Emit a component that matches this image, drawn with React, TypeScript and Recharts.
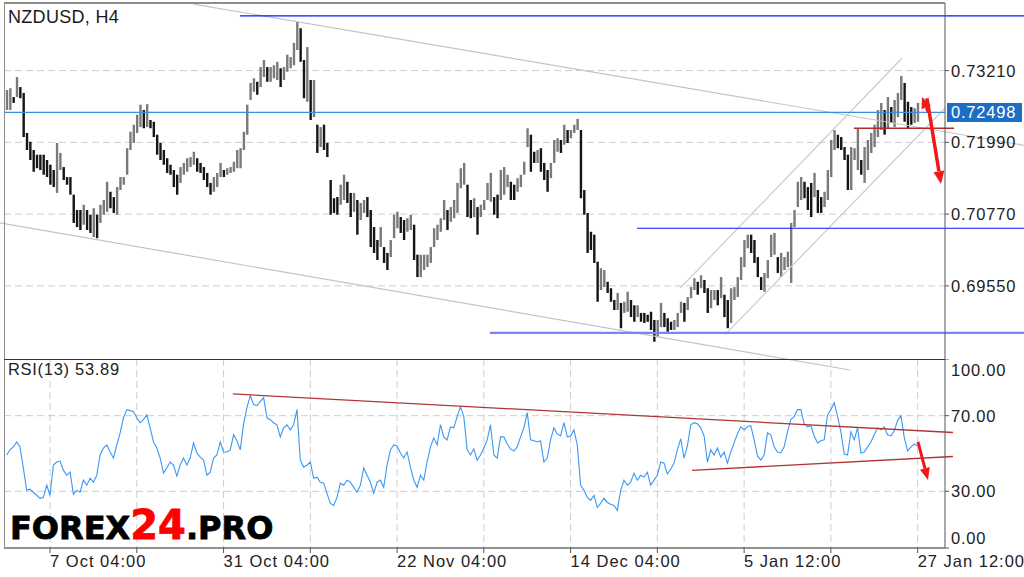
import React from 'react';
import { ComposedChart, Bar, Line, XAxis, YAxis, CartesianGrid, ReferenceLine } from 'recharts';

const FONT = "'Liberation Sans', Arial, Helvetica, sans-serif";

// H4 candles (high / low), one entry per time slot
const priceHigh = [
  0.7288,0.7291,0.7276,0.7310,0.7293,0.7283,0.7215,0.7200,0.7186,0.7178,
  0.7178,0.7178,0.7169,0.7161,0.7152,0.7198,0.7181,0.7157,0.7140,0.7140,
  0.7110,0.7084,0.7084,0.7093,0.7084,0.7076,0.7087,0.7076,0.7093,0.7101,
  0.7132,0.7115,0.7106,0.7123,0.7140,0.7140,0.7189,0.7217,0.7229,0.7246,
  0.7263,0.7254,0.7264,0.7237,0.7234,0.7212,0.7198,0.7186,0.7172,0.7161,
  0.7152,0.7144,0.7157,0.7164,0.7172,0.7174,0.7183,0.7172,0.7164,0.7157,
  0.7147,0.7130,0.7140,0.7147,0.7164,0.7152,0.7155,0.7157,0.7166,0.7186,
  0.7189,0.7217,0.7263,0.7300,0.7308,0.7302,0.7327,0.7339,0.7327,0.7327,
  0.7330,0.7336,0.7325,0.7327,0.7348,0.7344,0.7368,0.7404,0.7393,0.7339,
  0.7361,0.7305,0.7305,0.7229,0.7225,0.7229,0.7198,0.7135,0.7104,0.7106,
  0.7127,0.7144,0.7132,0.7113,0.7113,0.7101,0.7096,0.7101,0.7106,0.7084,
  0.7055,0.7033,0.7055,0.7021,0.7011,0.7033,0.7076,0.7081,0.7072,0.7067,
  0.7070,0.7076,0.7059,0.7008,0.7008,0.7008,0.7008,0.7021,0.7053,0.7059,
  0.7070,0.7101,0.7084,0.7089,0.7101,0.7130,0.7155,0.7164,0.7127,0.7101,
  0.7104,0.7089,0.7093,0.7101,0.7130,0.7147,0.7106,0.7110,0.7152,0.7157,
  0.7144,0.7132,0.7127,0.7138,0.7144,0.7166,0.7223,0.7212,0.7183,0.7186,
  0.7189,0.7164,0.7152,0.7164,0.7203,0.7206,0.7203,0.7229,0.7220,0.7220,
  0.7229,0.7239,0.7220,0.7118,0.7079,0.7047,0.7042,0.6996,0.6985,0.6982,
  0.6962,0.6951,0.6931,0.6943,0.6926,0.6928,0.6945,0.6931,0.6922,0.6922,
  0.6909,0.6909,0.6906,0.6911,0.6897,0.6897,0.6926,0.6909,0.6900,0.6894,
  0.6897,0.6909,0.6928,0.6926,0.6936,0.6953,0.6968,0.6962,0.6973,0.6965,
  0.6951,0.6948,0.6948,0.6948,0.6970,0.6940,0.6931,0.6951,0.6953,0.6970,
  0.7004,0.7033,0.7042,0.7042,0.7033,0.7004,0.6970,0.6977,0.6999,0.7042,
  0.7045,0.7004,0.7011,0.7004,0.7013,0.7062,0.7084,0.7132,0.7140,0.7132,
  0.7123,0.7130,0.7147,0.7118,0.7106,0.7115,0.7152,0.7203,0.7220,0.7212,
  0.7208,0.7191,0.7178,0.7191,0.7189,0.7223,0.7169,0.7191,0.7203,0.7215,
  0.7229,0.7254,0.7266,0.7254,0.7276,0.7259,0.7271,0.7283,0.7312,0.7300,
  0.7268,0.7259,0.7257,0.7266,
];

const priceLow = [
  0.7254,0.7254,0.7266,0.7276,0.7274,0.7208,0.7186,0.7169,0.7149,0.7155,
  0.7152,0.7144,0.7140,0.7127,0.7123,0.7113,0.7152,0.7135,0.7127,0.7110,
  0.7062,0.7055,0.7050,0.7059,0.7050,0.7045,0.7038,0.7036,0.7062,0.7076,
  0.7081,0.7087,0.7079,0.7076,0.7118,0.7127,0.7144,0.7186,0.7198,0.7215,
  0.7225,0.7223,0.7225,0.7223,0.7208,0.7178,0.7169,0.7161,0.7147,0.7144,
  0.7123,0.7110,0.7130,0.7144,0.7149,0.7157,0.7161,0.7149,0.7147,0.7135,
  0.7123,0.7110,0.7115,0.7123,0.7140,0.7140,0.7144,0.7147,0.7149,0.7155,
  0.7155,0.7186,0.7212,0.7271,0.7285,0.7280,0.7293,0.7310,0.7302,0.7302,
  0.7308,0.7305,0.7293,0.7305,0.7319,0.7325,0.7330,0.7356,0.7336,0.7274,
  0.7268,0.7237,0.7242,0.7181,0.7191,0.7186,0.7174,0.7076,0.7079,0.7076,
  0.7093,0.7101,0.7096,0.7072,0.7081,0.7042,0.7067,0.7079,0.7072,0.7021,
  0.7011,0.6999,0.7021,0.6994,0.6982,0.7004,0.7036,0.7053,0.7045,0.7033,
  0.7047,0.7050,0.6999,0.6970,0.6970,0.6982,0.6987,0.6994,0.7021,0.7033,
  0.7047,0.7067,0.7050,0.7064,0.7070,0.7079,0.7121,0.7127,0.7072,0.7070,
  0.7072,0.7042,0.7072,0.7084,0.7101,0.7098,0.7076,0.7070,0.7101,0.7110,
  0.7123,0.7101,0.7101,0.7115,0.7123,0.7144,0.7191,0.7149,0.7164,0.7164,
  0.7149,0.7135,0.7115,0.7138,0.7164,0.7183,0.7181,0.7195,0.7198,0.7206,
  0.7215,0.7220,0.7104,0.7076,0.7011,0.7016,0.6994,0.6928,0.6948,0.6953,
  0.6943,0.6928,0.6914,0.6914,0.6883,0.6909,0.6911,0.6902,0.6894,0.6902,
  0.6894,0.6892,0.6894,0.6880,0.6860,0.6868,0.6885,0.6885,0.6877,0.6880,
  0.6880,0.6885,0.6909,0.6894,0.6914,0.6934,0.6948,0.6940,0.6951,0.6943,
  0.6909,0.6917,0.6931,0.6922,0.6934,0.6902,0.6883,0.6892,0.6931,0.6936,
  0.6965,0.6987,0.7019,0.7011,0.6994,0.6970,0.6948,0.6945,0.6968,0.7004,
  0.7008,0.6977,0.6970,0.6982,0.6987,0.6960,0.7055,0.7089,0.7101,0.7104,
  0.7084,0.7072,0.7106,0.7079,0.7079,0.7089,0.7101,0.7140,0.7186,0.7189,
  0.7186,0.7169,0.7118,0.7118,0.7169,0.7152,0.7144,0.7130,0.7152,0.7181,
  0.7191,0.7208,0.7220,0.7212,0.7223,0.7232,0.7225,0.7242,0.7271,0.7234,
  0.7223,0.7229,0.7232,0.7234,
];

// RSI(13) per slot
const rsi13 = [
  49.2,51.9,53.5,56.1,53.5,42.3,30.5,31.1,29.5,27.9,
  26.3,26.8,33.2,27.9,43.9,45.5,46.0,41.2,38.5,40.1,
  28.4,30.5,29.5,35.9,33.2,36.9,34.8,38.5,49.2,52.9,
  54.5,50.8,47.6,54.5,60.9,68.9,73.2,72.7,72.1,68.9,
  66.3,67.9,70.5,63.6,56.1,52.9,47.6,39.6,42.3,45.5,
  43.9,38.0,43.9,47.6,43.9,47.6,55.6,50.3,48.1,46.5,
  38.5,40.1,47.6,49.2,56.1,50.8,50.8,51.9,59.9,56.7,
  51.9,65.7,74.3,80.7,75.9,75.3,77.5,79.6,68.9,67.9,
  66.3,65.2,58.8,63.6,65.2,62.5,65.2,73.2,46.5,42.8,
  43.9,45.5,36.9,37.5,34.8,34.3,28.9,23.6,22.5,26.8,
  34.3,33.2,35.9,34.8,32.1,29.5,33.2,42.3,38.5,34.8,
  28.9,34.8,35.9,32.1,43.9,51.9,54.5,54.0,50.3,47.6,
  50.8,42.8,35.9,32.1,38.5,35.9,45.5,53.5,58.3,54.5,
  65.2,58.8,57.2,64.1,63.6,69.5,74.8,69.5,51.9,49.2,
  52.4,46.5,49.2,52.9,57.2,65.2,49.2,47.6,58.8,58.8,
  55.0,52.4,51.3,53.5,58.8,63.6,71.6,57.2,56.7,56.1,
  56.7,45.5,47.6,57.2,63.6,60.4,59.3,66.3,58.8,59.3,
  62.5,54.5,33.2,30.5,26.8,25.2,27.9,21.5,23.6,26.3,
  24.1,23.1,22.5,19.9,30.5,35.9,33.2,34.8,39.6,35.9,
  38.5,37.5,40.1,33.2,35.9,38.5,45.5,44.9,39.1,41.7,
  44.9,51.9,57.8,47.6,54.0,65.2,66.3,65.7,63.6,59.3,
  45.5,51.9,49.2,52.9,48.1,50.8,44.9,50.8,55.6,60.4,
  64.1,62.5,64.1,64.7,57.2,48.7,46.5,49.2,60.9,59.9,
  53.5,50.8,50.3,53.5,61.5,67.9,69.5,73.2,73.2,65.7,
  64.1,64.7,59.3,55.6,56.7,57.2,70.5,73.2,76.9,69.5,
  61.5,49.7,49.2,61.5,57.2,63.6,50.3,50.8,53.5,56.1,
  59.9,63.6,62.5,64.1,59.9,59.3,62.0,67.4,70.0,58.3,
  51.3,53.5,55.0,53.89,
];

const gridSlots = [13, 39, 65, 91, 117, 143, 169, 195, 221, 247, 273];
const labelSlots = [13, 65, 117, 169, 221, 273];
const labelTexts = ['7 Oct 04:00', '31 Oct 04:00', '22 Nov 04:00', '14 Dec 04:00', '5 Jan 12:00', '27 Jan 12:00'];
const priceTicks = [0.6955, 0.7077, 0.7199, 0.7321];
const rsiTicks = [0, 30, 70, 100];
const lastPrice = 0.72498;
const lastRsi = 53.89;
const slotDomain: [number, number] = [-0.8, 281.2];
const priceDomain: [number, number] = [0.68307, 0.74359];

// drawn objects (data coordinates: slot, price / rsi)
const blueLevelTop = { from: 69.9, to: 304.9, price: 0.7414 };
const blueLevelMid = { from: 188.9, to: 304.9, price: 0.7053 };
const blueLevelLow = { from: 144.8, to: 304.9, price: 0.6875 };
const redLevel = { from: 253.9, to: 283.9, price: 0.7223 };
const channelFallUpper = [{ x: 56, y: 0.7434 }, { x: 304.9, y: 0.7194 }];
const channelFallLower = [{ x: -2, y: 0.7062 }, { x: 252.7, y: 0.6812 }];
const channelRiseUpper = [{ x: 201.8, y: 0.6951 }, { x: 268.3, y: 0.7342 }];
const channelRiseLower = [{ x: 215.3, y: 0.6872 }, { x: 281.2, y: 0.7257 }];
const priceArrowDown = [{ x: 275.8, y: 0.7274 }, { x: 280.0, y: 0.7128 }];
const priceArrowUp = [{ x: 276.1, y: 0.7251 }, { x: 274.3, y: 0.7276 }];
const rsiLineUpper = [{ x: 67.8, y: 81.5 }, { x: 283.6, y: 61.1 }];
const rsiLineLower = [{ x: 205.4, y: 41.1 }, { x: 283.6, y: 48.4 }];
const rsiArrow = [{ x: 273.1, y: 56.1 }, { x: 276.1, y: 36.0 }];

const priceData = priceHigh.map((h, i) => ({
  slot: i,
  range: [priceLow[i], h],
  up: i === 0 ? true : h + priceLow[i] >= priceHigh[i - 1] + priceLow[i - 1],
}));
const rsiData = rsi13.map((v, i) => ({ slot: i, rsi: v }));

const Candle = (props: any) => {
  const { x, y, width, height, payload } = props;
  if (x == null || y == null || height == null) return null;
  const top = Math.min(y, y + height);
  const h = Math.max(Math.abs(height), 1);
  const cx = x + width / 2;
  return <rect x={cx - 1.2} y={top} width={2.4} height={h} fill={payload.up ? '#7a7a7a' : '#151515'} />;
};

const makeArrow = (headLen: number, headW: number, shaft: number, color: string) => (p: any) => {
  const { x1, y1, x2, y2 } = p;
  if ([x1, y1, x2, y2].some((v) => v == null || isNaN(v))) return <g />;
  const dx = x2 - x1;
  const dy = y2 - y1;
  const len = Math.hypot(dx, dy) || 1;
  const ux = dx / len;
  const uy = dy / len;
  const bx = x2 - ux * headLen;
  const by = y2 - uy * headLen;
  const px = (-uy * headW) / 2;
  const py = (ux * headW) / 2;
  return (
    <g>
      <line x1={x1} y1={y1} x2={bx} y2={by} stroke={color} strokeWidth={shaft} />
      <polygon points={`${x2},${y2} ${bx + px},${by + py} ${bx - px},${by - py}`} fill={color} />
    </g>
  );
};

const PriceTick = (props: any) => {
  const { x, y, payload } = props;
  return (
    <text x={x} y={y} dy={6} fill="#222" fontSize={16.5} letterSpacing={0.8} fontFamily={FONT} textAnchor="start">
      {Number(payload.value).toFixed(5)}
    </text>
  );
};

const RsiTick = (props: any) => {
  const { x, y, payload } = props;
  const v = Number(payload.value);
  const shift = v === 100 ? 11 : v === 0 ? -10 : 0;
  return (
    <text x={x} y={y + shift} dy={6} fill="#222" fontSize={16.5} letterSpacing={0.8} fontFamily={FONT} textAnchor="start">
      {v.toFixed(2)}
    </text>
  );
};

const DateTick = (props: any) => {
  const { x, y, payload } = props;
  const idx = labelSlots.indexOf(Number(payload.value));
  if (idx < 0) return <g />;
  return (
    <text x={x} y={y} dy={12} fill="#222" fontSize={16.5} letterSpacing={1} fontFamily={FONT} textAnchor="start">
      {labelTexts[idx]}
    </text>
  );
};

const PriceTag = (props: any) => {
  const vb = props.viewBox || {};
  const x = (vb.x ?? 0) + (vb.width ?? 0) + 2;
  const y = vb.y ?? 0;
  return (
    <g>
      <rect x={x} y={y - 9.5} width={75} height={19} fill="#1c6ec4" />
      <text x={x + 4} y={y + 6} fill="#ffffff" fontSize={16.5} letterSpacing={0.8} fontFamily={FONT}>
        {lastPrice.toFixed(5)}
      </text>
    </g>
  );
};

const seg = (a: { x: number; y: number }[]) => a.map((p) => ({ x: p.x, y: p.y })) as any;
const lvl = (l: { from: number; to: number; price: number }) =>
  [{ x: l.from, y: l.price }, { x: l.to, y: l.price }] as any;

export default function App() {
  return (
    <div style={{ position: 'fixed', left: 0, top: 0, width: 1024, height: 577, background: '#fff', overflow: 'hidden' }}>
      {/* price panel */}
      <div style={{ position: 'absolute', left: 0, top: 0 }}>
        <ComposedChart width={1024} height={380} data={priceData} margin={{ top: 3, right: 0, bottom: 21, left: 4 }}>
          <CartesianGrid stroke="#cdcdcd" strokeDasharray="7 4" horizontalValues={priceTicks} verticalValues={gridSlots} />
          <XAxis
            dataKey="slot"
            type="number"
            domain={slotDomain}
            allowDataOverflow
            ticks={gridSlots}
            interval={0}
            height={0}
            tick={false}
            tickLine={false}
            axisLine={false}
          />
          <YAxis
            orientation="right"
            width={79}
            domain={priceDomain}
            allowDataOverflow
            ticks={priceTicks}
            interval={0}
            tickSize={4}
            tickMargin={2}
            axisLine={{ stroke: '#555' }}
            tickLine={{ stroke: '#555' }}
            tick={<PriceTick />}
          />
          <ReferenceLine segment={seg(channelFallUpper)} stroke="#c4c4c4" strokeWidth={1.2} ifOverflow="visible" />
          <ReferenceLine segment={seg(channelFallLower)} stroke="#c4c4c4" strokeWidth={1.2} ifOverflow="visible" />
          <ReferenceLine segment={seg(channelRiseUpper)} stroke="#cccccc" strokeWidth={1.2} ifOverflow="visible" />
          <ReferenceLine segment={seg(channelRiseLower)} stroke="#cccccc" strokeWidth={1.2} ifOverflow="visible" />
          <Bar dataKey="range" barSize={2} isAnimationActive={false} shape={<Candle />} />
          <ReferenceLine y={lastPrice} stroke="#3d8ddb" strokeWidth={1.2} label={<PriceTag />} />
          <ReferenceLine segment={lvl(blueLevelTop)} stroke="#1010ff" strokeWidth={1.2} ifOverflow="visible" />
          <ReferenceLine segment={lvl(blueLevelMid)} stroke="#1010ff" strokeWidth={1.2} ifOverflow="visible" />
          <ReferenceLine segment={lvl(blueLevelLow)} stroke="#7f7fff" strokeWidth={2.2} ifOverflow="visible" />
          <ReferenceLine segment={lvl(redLevel)} stroke="#b32a2a" strokeWidth={1.3} ifOverflow="visible" />
          <ReferenceLine segment={seg(priceArrowDown)} ifOverflow="visible" shape={makeArrow(13, 11, 3.5, '#f21818')} />
          <ReferenceLine segment={seg(priceArrowUp)} ifOverflow="visible" shape={makeArrow(11, 10, 3, '#f21818')} />
        </ComposedChart>
      </div>

      {/* RSI panel */}
      <div style={{ position: 'absolute', left: 0, top: 359 }}>
        <ComposedChart width={1024} height={218} data={rsiData} margin={{ top: 0, right: 0, bottom: 0, left: 4 }}>
          <CartesianGrid stroke="#cdcdcd" strokeDasharray="7 4" horizontalValues={[30, 70]} verticalValues={gridSlots} />
          <XAxis
            dataKey="slot"
            type="number"
            domain={slotDomain}
            allowDataOverflow
            ticks={gridSlots}
            interval={0}
            height={29}
            tickSize={5}
            tickMargin={2}
            axisLine={{ stroke: '#222' }}
            tickLine={{ stroke: '#555' }}
            tick={<DateTick />}
          />
          <YAxis
            orientation="right"
            width={79}
            domain={[0, 100]}
            allowDataOverflow
            ticks={rsiTicks}
            interval={0}
            tickSize={4}
            tickMargin={2}
            axisLine={{ stroke: '#555' }}
            tickLine={{ stroke: '#555' }}
            tick={<RsiTick />}
          />
          <Line dataKey="rsi" stroke="#3a98f5" strokeWidth={1.1} dot={false} isAnimationActive={false} />
          <ReferenceLine segment={seg(rsiLineUpper)} stroke="#b03535" strokeWidth={1.3} ifOverflow="visible" />
          <ReferenceLine segment={seg(rsiLineLower)} stroke="#b03535" strokeWidth={1.3} ifOverflow="visible" />
          <ReferenceLine segment={seg(rsiArrow)} ifOverflow="visible" shape={makeArrow(12, 10, 3, '#f21818')} />
        </ComposedChart>
      </div>

      {/* frame */}
      <div style={{ position: 'absolute', left: 4, top: 2, width: 941, height: 0, borderTop: '2px solid #8d8d8d' }} />
      <div style={{ position: 'absolute', left: 3.5, top: 2, width: 0, height: 546, borderLeft: '1.5px solid #8d8d8d' }} />
      <div style={{ position: 'absolute', left: 4, top: 358.5, width: 941, height: 0, borderTop: '1.5px solid #333' }} />

      {/* texts */}
      <svg width={1024} height={577} style={{ position: 'absolute', left: 0, top: 0, pointerEvents: 'none' }}>
        <text x={8} y={23} fontSize={18} fill="#1a1a1a" fontFamily={FONT} letterSpacing={0.3}>
          NZDUSD, H4
        </text>
        <text x={8} y={375} fontSize={16.5} fill="#222" fontFamily={FONT} letterSpacing={0.7}>
          {`RSI(13) ${lastRsi.toFixed(2)}`}
        </text>
        <text x={10} y={539} fontFamily="'DejaVu Sans', sans-serif" fontWeight="bold">
          <tspan fontSize={32} fill="#000" stroke="#000" strokeWidth={0.8}>FOREX</tspan>
          <tspan fontSize={40} fill="#ff0000" stroke="#ff0000" strokeWidth={0.8}>24</tspan>
          <tspan fontSize={32} fill="#000" stroke="#000" strokeWidth={0.8}>.PRO</tspan>
        </text>
      </svg>
    </div>
  );
}
